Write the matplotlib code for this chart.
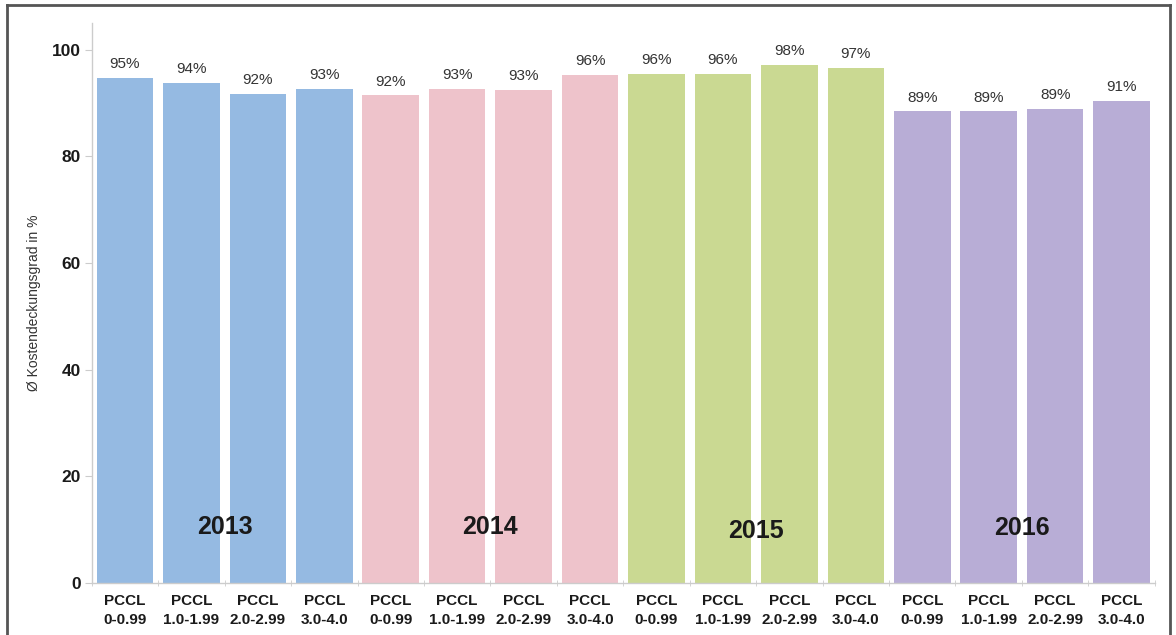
import numpy as np
import matplotlib.pyplot as plt
from matplotlib.lines import Line2D

plt.rcParams['font.family'] = ['Liberation Sans', 'DejaVu Sans']

years = ['2013', '2014', '2015', '2016']
classes = ['PCCL\n0-0.99', 'PCCL\n1.0-1.99', 'PCCL\n2.0-2.99', 'PCCL\n3.0-4.0']
values = [94.6, 93.8, 91.6, 92.7,
          91.4, 92.7, 92.5, 95.3,
          95.5, 95.5, 97.2, 96.6,
          88.4, 88.4, 88.9, 90.3]
labels = ['95%', '94%', '92%', '93%',
          '92%', '93%', '93%', '96%',
          '96%', '96%', '98%', '97%',
          '89%', '89%', '89%', '91%']
year_colors = ['#95bae2', '#eec3cb', '#cad992', '#b8add6']

fig = plt.figure(figsize=(11.76, 6.35), dpi=100)
ax = fig.add_axes([0.078, 0.0819, 0.904, 0.882])

x = np.arange(len(values))
colors = [year_colors[i // 4] for i in range(len(values))]
ax.bar(x, values, width=0.85, color=colors)

for xi, v, lab in zip(x, values, labels):
    ax.text(xi, v + 1.3, lab, ha='center', va='bottom', fontsize=11, color='#333333')

year_y = [10.5, 10.5, 9.7, 10.3]
for i, yr in enumerate(years):
    ax.text(i * 4 + 1.5, year_y[i], yr, ha='center', va='center',
            fontsize=18, fontweight='bold', color='#1a1a1a')

ax.set_xlim(-0.5, 15.5)
ax.set_ylim(0, 105)
ax.set_xticks(x)
ax.set_xticklabels(classes * 4, fontsize=11, fontweight='bold', color='#1a1a1a', linespacing=1.45)
ax.set_xticks(np.arange(-0.5, 16, 1), minor=True)
ax.tick_params(axis='x', which='major', length=0, pad=8)
ax.tick_params(axis='x', which='minor', length=4, color='#cccccc', direction='inout')
ax.set_yticks([0, 20, 40, 60, 80, 100])
ax.set_yticklabels(['0', '20', '40', '60', '80', '100'], fontsize=12.5, fontweight='bold', color='#1a1a1a')
ax.tick_params(axis='y', length=5, color='#cccccc', pad=3)
ax.set_ylabel('Ø Kostendeckungsgrad in %', fontsize=10, color='#333333', labelpad=8)

for s in ['top', 'right']:
    ax.spines[s].set_visible(False)
for s in ['left', 'bottom']:
    ax.spines[s].set_color('#cccccc')
    ax.spines[s].set_linewidth(1)

# outer frame of the picture
W, H = 1176, 635
frame = dict(color='#555555', linewidth=2, transform=fig.transFigure)
fig.add_artist(Line2D([7 / W, 7 / W], [0, 1 - 5 / H], **frame))
fig.add_artist(Line2D([7 / W, 1170 / W], [1 - 5 / H, 1 - 5 / H], **frame))
fig.add_artist(Line2D([1170 / W, 1170 / W], [0, 1 - 5 / H], **frame))

fig.savefig('out.png', dpi=100)
